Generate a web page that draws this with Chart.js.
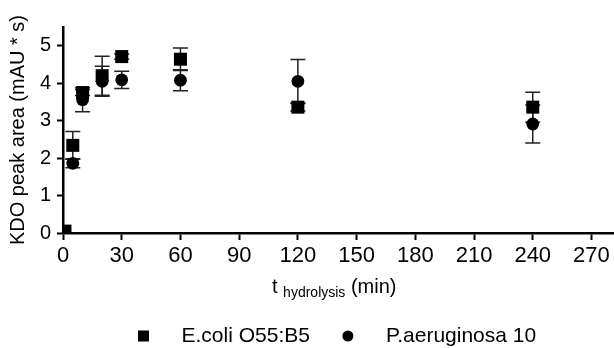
<!DOCTYPE html>
<html>
<head>
<meta charset="utf-8">
<script src="https://cdn.jsdelivr.net/npm/chart.js@4.4.0/dist/chart.umd.min.js"></script>
<style>
    html, body { margin: 0; padding: 0; background: #fff; }
    #wrap { width: 614px; height: 348px; }
</style>
</head>
<body>
<div id="wrap"><canvas id="myChart" width="614" height="348"></canvas></div>
<script>
// Data
const ecoliTimes = [1, 5, 10, 20, 30, 60, 120, 240];
const ecoliMeans = [0.05, 2.34, 3.75, 4.2, 4.71, 4.64, 3.36, 3.36];
const ecoliErrors = [0, 0.37, 0.08, 0.52, 0.07, 0.3, 0.1, 0.4];

const paerTimes = [5, 10, 20, 30, 60, 120, 240];
const paerMeans = [1.86, 3.56, 4.05, 4.09, 4.08, 4.05, 2.91];
const paerErrors = [0.12, 0.32, 0.4, 0.23, 0.28, 0.58, 0.51];

const xTicks = [0, 30, 60, 90, 120, 150, 180, 210, 240, 270];
const yTicks = [0, 1, 2, 3, 4, 5];
const seriesLabels = ['E.coli O55:B5', 'P.aeruginosa 10'];

const FONT = "'Liberation Sans', Arial, sans-serif";

// let the x axis run to the right edge of the canvas
const stretchArea = {
    id: 'stretchArea',
    afterLayout(chart) {
        const x = chart.scales.x;
        const right = chart.width - 1;
        chart.chartArea.right = right;
        chart.chartArea.width = right - chart.chartArea.left;
        x.right = right;
        x.width = right - x.left;
        x.configure();
        x._labelItems = null;
    }
};

// Error bars, drawn under the markers
const errorBars = {
    id: 'errorBars',
    beforeDatasetsDraw(chart) {
        const { ctx, scales: { x, y } } = chart;
        ctx.save();
        ctx.strokeStyle = '#222';
        ctx.lineWidth = 1.5;
        chart.data.datasets.forEach(ds => {
            ds.data.forEach((p, i) => {
                const e = ds.errors[i];
                if (!e) return;
                const px = x.getPixelForValue(p.x);
                const top = y.getPixelForValue(p.y + e);
                const bot = y.getPixelForValue(p.y - e);
                ctx.beginPath();
                ctx.moveTo(px, top);
                ctx.lineTo(px, bot);
                ctx.moveTo(px - 7.5, top);
                ctx.lineTo(px + 7.5, top);
                ctx.moveTo(px - 7.5, bot);
                ctx.lineTo(px + 7.5, bot);
                ctx.stroke();
            });
        });
        ctx.restore();
    }
};

// x title with subscript + legend
const extras = {
    id: 'extras',
    afterDraw(chart) {
        const { ctx, chartArea } = chart;
        ctx.save();
        ctx.fillStyle = '#000';
        ctx.textBaseline = 'alphabetic';
        ctx.textAlign = 'left';

        // x axis title
        const big = '20px ' + FONT, small = '14px ' + FONT;
        ctx.font = big;
        const wT = ctx.measureText('t ').width;
        ctx.font = small;
        const wS = ctx.measureText('hydrolysis').width;
        let tx = 272;
        const base = chartArea.bottom + 60;
        ctx.font = big;
        ctx.fillText('t ', tx, base);
        tx += wT;
        ctx.font = small;
        ctx.fillText('hydrolysis', tx, base + 4);
        tx += wS;
        ctx.font = big;
        ctx.fillText(' (min)', tx, base);

        // legend
        const ly = chartArea.bottom + 103;
        let lx = 143.5;
        ctx.font = '21px ' + FONT;
        ctx.textBaseline = 'middle';
        chart.data.datasets.forEach((ds, i) => {
            ctx.beginPath();
            if (ds.pointStyle === 'rect') {
                ctx.rect(lx - 5.5, ly - 5.5, 11, 11);
            } else {
                ctx.arc(lx, ly, 5.5, 0, Math.PI * 2);
            }
            ctx.fill();
            ctx.fillText(seriesLabels[i], lx + 38, ly);
            lx += 38 + ctx.measureText(seriesLabels[i]).width + 38;
        });
        ctx.restore();
    }
};

const ctx = document.getElementById('myChart').getContext('2d');
const myChart = new Chart(ctx, {
    type: 'scatter',
    data: {
        datasets: [
            {
                label: seriesLabels[0],
                data: ecoliTimes.map((t, i) => ({ x: t, y: ecoliMeans[i] })),
                errors: ecoliErrors,
                pointStyle: 'rect',
                pointRadius: 9.2,
                pointHoverRadius: 9.2,
                backgroundColor: '#000',
                borderColor: '#000',
                borderWidth: 0
            },
            {
                label: seriesLabels[1],
                data: paerTimes.map((t, i) => ({ x: t, y: paerMeans[i] })),
                errors: paerErrors,
                pointStyle: 'circle',
                pointRadius: 6.4,
                pointHoverRadius: 6.4,
                backgroundColor: '#000',
                borderColor: '#000',
                borderWidth: 0
            }
        ]
    },
    options: {
        responsive: false,
        devicePixelRatio: 1,
        animation: false,
        layout: { padding: { top: 27, left: 0, right: 1, bottom: 0 } },
        plugins: {
            legend: { display: false },
            tooltip: { enabled: false }
        },
        scales: {
            x: {
                type: 'linear',
                min: 0,
                max: 281,
                afterBuildTicks: scale => { scale.ticks = xTicks.map(v => ({ value: v })); },
                afterFit: scale => { scale.height = 115; },
                grid: {
                    drawOnChartArea: false,
                    drawTicks: true,
                    tickLength: 7,
                    tickWidth: 2,
                    tickColor: '#000'
                },
                border: { display: true, color: '#000', width: 2.5 },
                ticks: {
                    color: '#000',
                    padding: 3,
                    maxRotation: 0,
                    font: { family: FONT, size: 22 }
                },
                title: { display: false }
            },
            y: {
                type: 'linear',
                min: 0,
                max: 5.5,
                afterBuildTicks: scale => { scale.ticks = yTicks.map(v => ({ value: v })); },
                afterFit: scale => { scale.width = 63; },
                grid: {
                    drawOnChartArea: false,
                    drawTicks: true,
                    tickLength: 6,
                    tickWidth: 2,
                    tickColor: '#000'
                },
                border: { display: true, color: '#000', width: 2.5 },
                ticks: {
                    color: '#000',
                    padding: 6,
                    font: { family: FONT, size: 20 }
                },
                title: {
                    display: true,
                    text: 'KDO peak area (mAU * s)',
                    color: '#000',
                    padding: { top: 6, bottom: 0 },
                    font: { family: FONT, size: 20 }
                }
            }
        }
    },
    plugins: [stretchArea, errorBars, extras]
});
</script>
</body>
</html>
